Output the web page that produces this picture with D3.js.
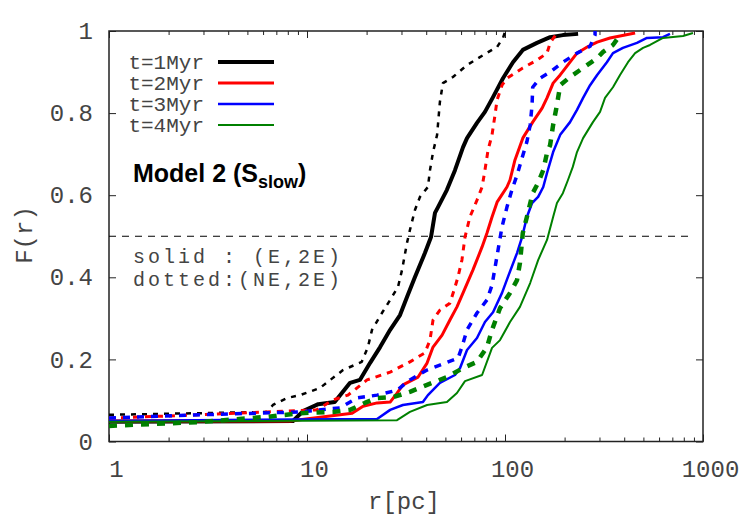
<!DOCTYPE html>
<html>
<head>
<meta charset="utf-8">
<script src="https://cdn.jsdelivr.net/npm/d3@7"></script>
<style>
  body { margin: 0; background: #fff; }
</style>
</head>
<body>
<div id="plot"></div>
<script>
// r [pc] vs F(r)
const solid1Myr = [[1,0.048],[8.5,0.050],[9.55,0.074],[11.4,0.091],[13.8,0.096],[16.5,0.143],[18.5,0.150],[20.8,0.191],[23.4,0.230],[26.3,0.272],[29.5,0.308],[32.0,0.352],[35.1,0.401],[39.4,0.459],[42.3,0.498],[44.3,0.557],[45.9,0.571],[50.9,0.613],[55.9,0.661],[61.4,0.717],[64.3,0.739],[72.2,0.776],[79.2,0.803],[87.0,0.839],[97.7,0.885],[109.7,0.924],[123,0.954],[145,0.971],[169,0.985],[196,0.990],[234,0.993]];
const dotted1Myr = [[1,0.065],[6.28,0.072],[6.73,0.089],[7.93,0.106],[9.22,0.113],[11.6,0.130],[15.2,0.174],[18.9,0.194],[20.3,0.230],[21.3,0.272],[23.9,0.313],[26.3,0.345],[28.8,0.376],[30.2,0.418],[32.0,0.484],[33.1,0.515],[35.1,0.564],[37.2,0.596],[40.8,0.620],[41.8,0.661],[43.3,0.705],[45.4,0.747],[46.9,0.827],[48.6,0.873],[54.6,0.888],[64.3,0.917],[77.4,0.941],[91.2,0.961],[97.7,0.983],[100,0.998]];
const solid2Myr = [[1,0.050],[8.2,0.050],[16.9,0.069],[19.2,0.086],[22.6,0.094],[26.3,0.096],[28.5,0.118],[30.5,0.138],[36.4,0.157],[40.4,0.191],[43.3,0.230],[48.1,0.259],[52.7,0.296],[57.2,0.328],[61.4,0.362],[68.9,0.418],[76.6,0.474],[81.1,0.508],[86.0,0.547],[91.2,0.583],[102.3,0.620],[106,0.637],[112.3,0.686],[123,0.739],[138,0.778],[154,0.812],[163,0.837],[175,0.873],[190,0.893],[213,0.924],[231,0.946],[260,0.961],[292,0.973],[339,0.983],[381,0.988],[454,0.995]];
const dotted2Myr = [[1,0.057],[2.88,0.065],[6.28,0.072],[11.2,0.077],[13.5,0.101],[16.1,0.113],[20.1,0.150],[26.3,0.169],[33.1,0.194],[39.4,0.216],[41.8,0.247],[43.3,0.296],[46.9,0.320],[52.7,0.337],[55.9,0.376],[57.9,0.401],[60.6,0.442],[62.8,0.498],[66.5,0.547],[72.2,0.588],[76.6,0.620],[79.2,0.661],[82.1,0.710],[86.0,0.747],[89.0,0.795],[91.2,0.832],[96.6,0.868],[102.3,0.885],[123,0.910],[145,0.929],[163,0.946],[169,0.971],[183,0.995]];
const solid3Myr = [[1,0.050],[22.6,0.055],[26.3,0.077],[30.5,0.089],[38.5,0.096],[40.8,0.113],[46.9,0.143],[55.9,0.162],[59.3,0.179],[64.3,0.223],[72.2,0.252],[79.2,0.291],[87.0,0.315],[96.6,0.362],[103.5,0.401],[115,0.459],[122,0.498],[129,0.547],[137,0.581],[147,0.596],[156,0.620],[163,0.654],[175,0.705],[190,0.747],[213,0.778],[231,0.808],[248,0.837],[269,0.868],[292,0.893],[327,0.924],[351,0.946],[394,0.959],[464,0.971],[521,0.983],[628,0.985],[681,0.993]];
const dotted3Myr = [[1,0.057],[2.88,0.065],[9.22,0.072],[14.7,0.082],[17.9,0.106],[22.6,0.113],[28.5,0.125],[33.1,0.150],[40.4,0.174],[46.9,0.186],[57.9,0.203],[60.6,0.230],[64.3,0.272],[72.2,0.313],[81.1,0.345],[86.0,0.381],[92.2,0.466],[96.6,0.523],[102.3,0.571],[108.4,0.613],[115,0.649],[122,0.691],[129,0.730],[134,0.771],[137,0.820],[138,0.863],[150,0.885],[169,0.900],[196,0.924],[231,0.946],[269,0.963],[285,0.990],[285,1.0]];
const solid4Myr = [[1,0.048],[28.5,0.052],[33.1,0.072],[40.4,0.089],[50.9,0.096],[57.2,0.118],[62.8,0.147],[76.6,0.162],[86.0,0.228],[94.4,0.247],[106,0.291],[119,0.328],[134,0.386],[147,0.442],[163,0.491],[175,0.547],[183,0.581],[196,0.605],[208,0.637],[220,0.669],[231,0.705],[248,0.739],[278,0.778],[302,0.803],[320,0.837],[351,0.863],[381,0.893],[418,0.924],[454,0.946],[498,0.959],[540,0.966],[628,0.983],[793,0.988],[890,0.995]];
const dotted4Myr = [[1,0.038],[2.88,0.0475],[6.28,0.060],[9.22,0.069],[13.5,0.072],[16.5,0.077],[19.6,0.094],[22.6,0.106],[27.2,0.108],[33.1,0.121],[40.4,0.138],[50.9,0.157],[61.4,0.179],[72.2,0.194],[81.1,0.230],[86.0,0.272],[94.4,0.325],[106,0.362],[115,0.393],[119,0.435],[123,0.508],[129,0.547],[138,0.605],[147,0.630],[156,0.661],[163,0.703],[169,0.722],[175,0.771],[183,0.820],[190,0.868],[213,0.888],[248,0.910],[292,0.934],[313,0.949],[351,0.966],[372,0.983],[381,0.995]];

const legendLabels = ["t=1Myr", "t=2Myr", "t=3Myr", "t=4Myr"];
const xTickValues = [1, 10, 100, 1000];
const xTickLabels = ["1", "10", "100", "1000"];
const yTickValues = [0, 0.2, 0.4, 0.6, 0.8, 1];
const yTickLabels = ["0", "0.2", "0.4", "0.6", "0.8", "1"];
const halfLine = [[1, 0.5], [890, 0.5]];

// Set up dimensions
const width = 750;
const height = 525;
const margin = { top: 31, right: 47, bottom: 83.5, left: 109 };
const mono = "'Liberation Mono', 'Courier New', monospace";
const textColor = "#444";

const svg = d3.select("#plot")
  .append("svg")
  .attr("width", width)
  .attr("height", height);

const x = d3.scaleLog()
  .domain([1, 1000])
  .range([margin.left, width - margin.right]);

const y = d3.scaleLinear()
  .domain([0, 1])
  .range([height - margin.bottom, margin.top]);

// minor ticks 2..9 per decade
const minorTicks = [];
[1, 10, 100].forEach(dec => {
  for (let k = 2; k <= 9; k++) minorTicks.push(k * dec);
});

// Bottom axis with labels
const xAxis = svg.append("g")
  .attr("transform", `translate(0,${y(0)})`)
  .call(d3.axisBottom(x)
    .tickValues(xTickValues)
    .tickFormat((d, i) => xTickLabels[i])
    .tickSizeInner(-7)
    .tickSizeOuter(0)
    .tickPadding(18));
xAxis.select(".domain").remove();
xAxis.selectAll("text")
  .attr("font-family", mono)
  .attr("font-size", 24)
  .attr("fill", textColor)
  .attr("dx", 7);

svg.append("g")
  .attr("transform", `translate(0,${y(0)})`)
  .call(d3.axisBottom(x).tickValues(minorTicks).tickFormat("").tickSizeInner(-4).tickSizeOuter(0))
  .select(".domain").remove();

// Top mirror ticks
svg.append("g")
  .attr("transform", `translate(0,${y(1)})`)
  .call(d3.axisTop(x).tickValues(xTickValues).tickFormat("").tickSizeInner(-7).tickSizeOuter(0))
  .select(".domain").remove();
svg.append("g")
  .attr("transform", `translate(0,${y(1)})`)
  .call(d3.axisTop(x).tickValues(minorTicks).tickFormat("").tickSizeInner(-4).tickSizeOuter(0))
  .select(".domain").remove();

// Left axis with labels
const yAxis = svg.append("g")
  .attr("transform", `translate(${x(1)},0)`)
  .call(d3.axisLeft(y)
    .tickValues(yTickValues)
    .tickFormat((d, i) => yTickLabels[i])
    .tickSizeInner(-7)
    .tickSizeOuter(0)
    .tickPadding(16));
yAxis.select(".domain").remove();
yAxis.selectAll("text")
  .attr("font-family", mono)
  .attr("font-size", 24)
  .attr("fill", textColor);

// Right mirror ticks
svg.append("g")
  .attr("transform", `translate(${x(1000)},0)`)
  .call(d3.axisRight(y).tickValues(yTickValues).tickFormat("").tickSizeInner(-7).tickSizeOuter(0))
  .select(".domain").remove();

svg.selectAll(".tick line").attr("stroke", "#222");

// Border
svg.append("rect")
  .attr("x", x(1))
  .attr("y", y(1))
  .attr("width", x(1000) - x(1))
  .attr("height", y(0) - y(1))
  .attr("fill", "none")
  .attr("stroke", "#222")
  .attr("stroke-width", 1.5);

const line = d3.line()
  .x(d => x(d[0]))
  .y(d => y(d[1]));

// F = 0.5 reference line
svg.append("path")
  .datum(halfLine)
  .attr("d", line)
  .attr("fill", "none")
  .attr("stroke", "#000")
  .attr("stroke-width", 1)
  .attr("stroke-dasharray", "7,6");

const series = [
  { data: solid1Myr, color: "#000000", w: 4, dash: null },
  { data: dotted1Myr, color: "#000000", w: 2.5, dash: "5,6" },
  { data: solid2Myr, color: "#ff0000", w: 3, dash: null },
  { data: dotted2Myr, color: "#ff0000", w: 3, dash: "6,6" },
  { data: solid3Myr, color: "#0000ff", w: 2.5, dash: null },
  { data: dotted3Myr, color: "#0000ff", w: 3.5, dash: "7,7" },
  { data: solid4Myr, color: "#008000", w: 2, dash: null },
  { data: dotted4Myr, color: "#008000", w: 4.5, dash: "8,8" }
];

svg.append("g")
  .selectAll("path")
  .data(series)
  .enter()
  .append("path")
  .attr("d", d => line(d.data))
  .attr("fill", "none")
  .attr("stroke", d => d.color)
  .attr("stroke-width", d => d.w)
  .attr("stroke-linejoin", "round")
  .attr("stroke-dasharray", d => d.dash);

// Legend
const legendColors = ["#000000", "#ff0000", "#0000ff", "#008000"];
const legendWidths = [4, 3, 2.7, 2];
const legend = svg.append("g");
legendLabels.forEach((lab, i) => {
  const ly = 62 + i * 21;
  legend.append("text")
    .attr("x", 204)
    .attr("y", ly + 7)
    .attr("text-anchor", "end")
    .attr("font-family", mono)
    .attr("font-size", 21)
    .attr("fill", textColor)
    .text(lab);
  legend.append("line")
    .attr("x1", 218)
    .attr("x2", 274)
    .attr("y1", ly)
    .attr("y2", ly)
    .attr("stroke", legendColors[i])
    .attr("stroke-width", legendWidths[i]);
});

// Model title
const title = svg.append("text")
  .attr("x", 133)
  .attr("y", 182)
  .attr("font-family", "'Liberation Sans', Arial, sans-serif")
  .attr("font-weight", "bold")
  .attr("font-size", 25)
  .attr("fill", "#000");
title.append("tspan").text("Model 2 (S");
title.append("tspan").attr("font-size", 18).attr("dy", 6).text("slow");
title.append("tspan").attr("dy", -6).text(")");

// Notes
svg.append("text")
  .attr("x", 133)
  .attr("y", 263)
  .attr("font-family", mono)
  .attr("font-size", 20)
  .attr("letter-spacing", 3)
  .attr("fill", textColor)
  .style("white-space", "pre")
  .text("solid : (E,2E)");
svg.append("text")
  .attr("x", 133)
  .attr("y", 286)
  .attr("font-family", mono)
  .attr("font-size", 20)
  .attr("letter-spacing", 3)
  .attr("fill", textColor)
  .text("dotted:(NE,2E)");

// Axis titles
svg.append("text")
  .attr("x", 404)
  .attr("y", 509)
  .attr("text-anchor", "middle")
  .attr("font-family", mono)
  .attr("font-size", 24)
  .attr("fill", textColor)
  .text("r[pc]");

svg.append("text")
  .attr("transform", "translate(32,235) rotate(-90)")
  .attr("text-anchor", "middle")
  .attr("font-family", mono)
  .attr("font-size", 24)
  .attr("fill", textColor)
  .text("F(r)");
</script>
</body>
</html>
